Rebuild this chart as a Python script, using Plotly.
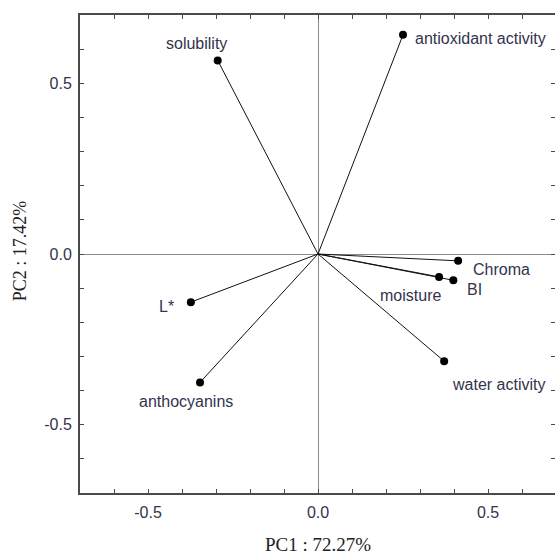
import plotly.graph_objects as go

variables = ["solubility", "antioxidant activity", "Chroma", "moisture", "BI",
             "water activity", "L*", "anthocyanins"]
pc1 = [-0.295, 0.250, 0.412, 0.356, 0.398, 0.371, -0.374, -0.347]
pc2 = [0.567, 0.642, -0.020, -0.067, -0.077, -0.314, -0.141, -0.376]

x_title = "PC1 : 72.27%"
y_title = "PC2 : 17.42%"
tick_vals = [-0.5, 0.0, 0.5]
tick_text = ["-0.5", "0.0", "0.5"]
x_range = [-0.7, 0.697]
y_range = [-0.7, 0.7]

# label placement (pixel offsets from the point), styling only
label_style = {
    "solubility": dict(xshift=-21, yshift=17, xanchor="center"),
    "antioxidant activity": dict(xshift=10, yshift=-4, xanchor="left"),
    "Chroma": dict(xshift=13, yshift=-9, xanchor="left"),
    "moisture": dict(xshift=-29, yshift=-19, xanchor="center"),
    "BI": dict(xshift=12, yshift=-9, xanchor="left"),
    "water activity": dict(xshift=54, yshift=-23, xanchor="center"),
    "L*": dict(xshift=-24, yshift=-4, xanchor="center"),
    "anthocyanins": dict(xshift=-14, yshift=-19, xanchor="center"),
}

text_color = "#33334d"
fig = go.Figure()

lx, ly = [], []
for x, y in zip(pc1, pc2):
    lx += [0, x, None]
    ly += [0, y, None]
fig.add_trace(go.Scatter(x=lx, y=ly, mode="lines",
                         line=dict(color="#111111", width=1), hoverinfo="skip"))
fig.add_trace(go.Scatter(x=pc1, y=pc2, mode="markers",
                         marker=dict(color="black", size=8), text=variables))
# invisible trace to activate the right-side tick axis
fig.add_trace(go.Scatter(x=[0], y=[0], mode="markers", yaxis="y2",
                         marker=dict(opacity=0), hoverinfo="skip"))

for name, x, y in zip(variables, pc1, pc2):
    st = label_style[name]
    fig.add_annotation(x=x, y=y, text=name, showarrow=False,
                       xshift=st["xshift"], yshift=st["yshift"], xanchor=st["xanchor"],
                       yanchor="middle",
                       font=dict(family="Liberation Sans, Arial, sans-serif", size=16,
                                 color=text_color))

fig.add_annotation(x=0.501, y=-0.107, xref="paper", yref="paper", text=x_title,
                   showarrow=False, xanchor="center", yanchor="middle",
                   font=dict(family="Liberation Serif, Times New Roman, serif", size=19,
                             color="#222222"))
fig.add_annotation(x=-0.126, y=0.506, xref="paper", yref="paper", text=y_title,
                   showarrow=False, xanchor="center", yanchor="middle", textangle=-90,
                   font=dict(family="Liberation Serif, Times New Roman, serif", size=18,
                             color="#222222"))

tick_style = dict(ticks="inside", ticklen=4, tickcolor="#4a4a4a", tickwidth=1)
minor_style = dict(ticks="inside", dtick=0.1, ticklen=4, tickcolor="#4a4a4a",
                   tickwidth=1, showgrid=False)
tick_font = dict(family="Liberation Sans, Arial, sans-serif", size=16, color=text_color)

fig.update_layout(
    width=555, height=554,
    margin=dict(l=80, r=0, t=15, b=61),
    plot_bgcolor="white", paper_bgcolor="white",
    showlegend=False,
    xaxis=dict(range=x_range, showgrid=False,
               zeroline=True, zerolinecolor="#8a8a8a", zerolinewidth=1.2,
               showline=True, linecolor="#4a4a4a", linewidth=2, mirror="ticks",
               tickvals=tick_vals, ticktext=tick_text, tickfont=tick_font,
               ticklabelstandoff=4, minor=minor_style, **tick_style),
    yaxis=dict(range=y_range, showgrid=False,
               zeroline=True, zerolinecolor="#8a8a8a", zerolinewidth=1.2,
               showline=True, linecolor="#4a4a4a", linewidth=2, mirror=False,
               tickvals=tick_vals, ticktext=tick_text, tickfont=tick_font,
               ticklabelstandoff=3, minor=minor_style, **tick_style),
    yaxis2=dict(range=y_range, overlaying="y", side="right", showgrid=False,
                zeroline=False, showline=False, showticklabels=False,
                tickvals=tick_vals, minor=minor_style, **tick_style),
)

fig.write_html("out.html",
               config={"displayModeBar": False},
               post_script="document.body.style.margin='0';document.body.style.overflow='hidden';")
